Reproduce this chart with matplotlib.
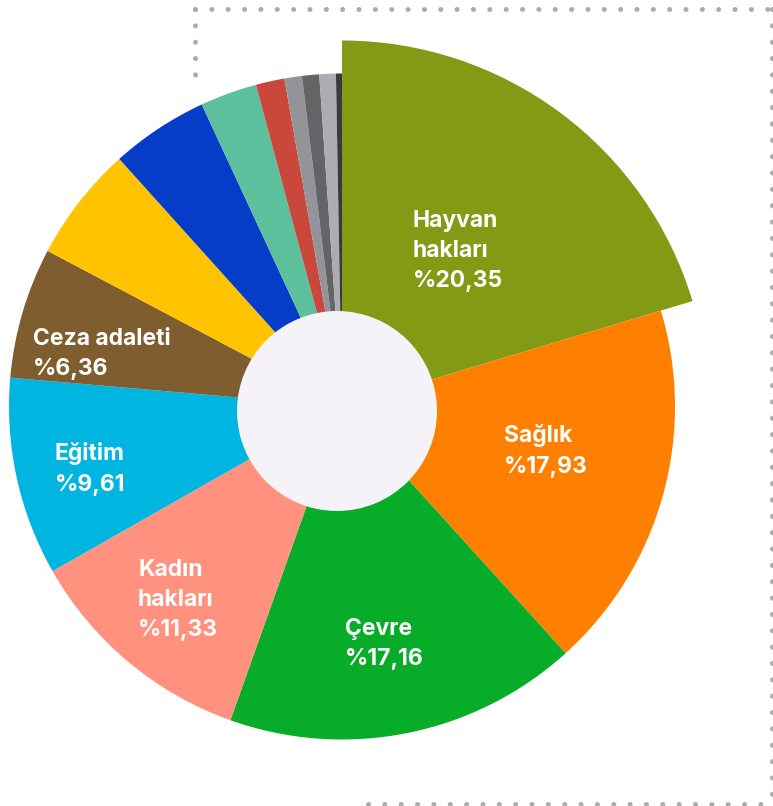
import matplotlib.pyplot as plt
from matplotlib.patches import Circle
import numpy as np

plt.rcParams['font.family'] = ['Inter', 'DejaVu Sans']

# share of each cause, clockwise from 12 o'clock
causes = ['Hayvan\nhakları', 'Sağlık', 'Çevre', 'Kadın\nhakları', 'Eğitim',
          'Ceza adaleti', 'c7', 'c8', 'c9', 'c10', 'c11', 'c12', 'c13', 'c14']
shares = [20.35, 17.93, 17.16, 11.33, 9.61, 6.36,
          5.60, 4.74, 2.76, 1.39, 0.85, 0.83, 0.80, 0.29]
colors = ['#839a14', '#ff7f00', '#07ac28', '#ff917e', '#00b5e0', '#7f5d2e',
          '#ffc300', '#053dc8', '#5cc09d', '#c9483b', '#939499', '#636466',
          '#abadb2', '#3a3a3c']
labelled = 6  # only the first six slices carry a label

W, H = 773, 806
fig = plt.figure(figsize=(W / 100, H / 100), dpi=100)
ax = fig.add_axes([0, 0, 1, 1])

cx, cy = 342, H - 406.5
wedges, _ = ax.pie(shares, colors=colors, startangle=90, counterclock=False,
                   center=(cx, cy), radius=333,
                   wedgeprops=dict(linewidth=0))
wedges[0].set_radius(366)  # the biggest slice sticks out

# hole in the middle
ax.add_patch(Circle((337, H - 411), 100, facecolor='#f5f3f7', edgecolor='none', zorder=5))

# labels (left edge, vertical centre of the block, in pixels from top)
label_pos = [(413, 251), (504, 451), (345, 644), (138, 600), (55, 469), (33, 354)]
for i in range(labelled):
    txt = causes[i] + '\n' + ('%' + f'{shares[i]:.2f}').replace('.', ',')
    x, y = label_pos[i]
    ax.text(x, H - y, txt, color='white', fontsize=16.5, fontweight='bold',
            ha='left', va='center', linespacing=1.48, zorder=6)

# dotted frame behind the chart
dot = dict(color='#ababab', linewidth=3.6, linestyle=(0, (0.01, 3.26)),
           dash_capstyle='round', zorder=0, clip_on=False)
ax.plot([195, 772], [H - 8.7, H - 8.7], **dot)
ax.plot([195, 195], [H - 8.7, H - 87], **dot)
ax.plot([772, 772], [H - 8.7, H - 804], **dot)
ax.plot([368, 772], [H - 804, H - 804], **dot)

ax.set_xlim(0, W)
ax.set_ylim(0, H)
ax.set_aspect('equal')
ax.axis('off')

plt.savefig('out.png', dpi=100)
